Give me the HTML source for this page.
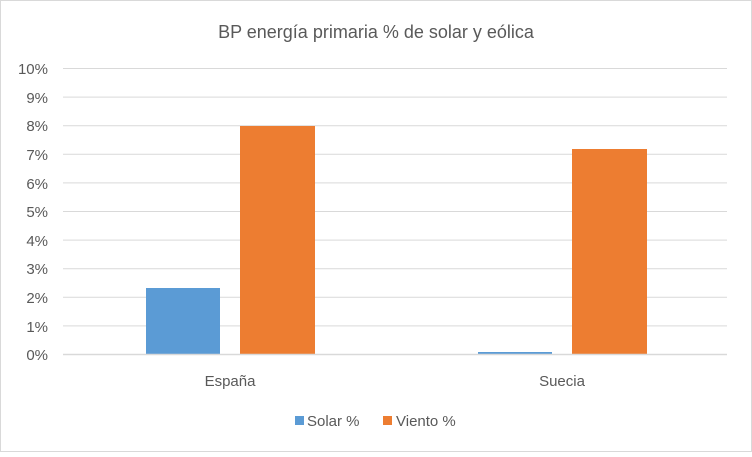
<!DOCTYPE html>
<html><head><style>
body{margin:0;background:#fff;}
</style></head><body>
<svg width="752" height="452" xmlns="http://www.w3.org/2000/svg" font-family="Liberation Sans, sans-serif">
<rect x="0.5" y="0.5" width="751" height="451" fill="#fff" stroke="#d9d9d9"/>
<text x="376" y="38" text-anchor="middle" font-size="18" fill="#595959">BP energía primaria % de solar y eólica</text>
<g stroke="#d9d9d9" stroke-width="1">
<line x1="63" x2="727" y1="68.5" y2="68.5"/>
<line x1="63" x2="727" y1="97.1" y2="97.1"/>
<line x1="63" x2="727" y1="125.7" y2="125.7"/>
<line x1="63" x2="727" y1="154.3" y2="154.3"/>
<line x1="63" x2="727" y1="182.9" y2="182.9"/>
<line x1="63" x2="727" y1="211.5" y2="211.5"/>
<line x1="63" x2="727" y1="240.1" y2="240.1"/>
<line x1="63" x2="727" y1="268.7" y2="268.7"/>
<line x1="63" x2="727" y1="297.3" y2="297.3"/>
<line x1="63" x2="727" y1="325.9" y2="325.9"/>
</g>
<g font-size="15" fill="#595959" text-anchor="end">
<text x="48" y="74">10%</text><text x="48" y="103">9%</text><text x="48" y="131">8%</text>
<text x="48" y="160">7%</text><text x="48" y="189">6%</text><text x="48" y="217">5%</text>
<text x="48" y="246">4%</text><text x="48" y="274">3%</text><text x="48" y="303">2%</text>
<text x="48" y="332">1%</text><text x="48" y="360">0%</text>
</g>
<rect x="146" y="288" width="74" height="66" fill="#5b9bd5"/>
<rect x="240" y="126" width="75" height="228" fill="#ed7d31"/>
<rect x="478" y="352" width="74" height="2" fill="#5b9bd5"/>
<rect x="572" y="149" width="75" height="205" fill="#ed7d31"/>
<line x1="63" x2="727" y1="354.5" y2="354.5" stroke="#d9d9d9" stroke-width="1.5"/>
<g font-size="15" fill="#595959" text-anchor="middle">
<text x="230" y="386">España</text><text x="562" y="386">Suecia</text>
</g>
<rect x="295" y="416" width="9" height="9" fill="#5b9bd5"/>
<text x="307" y="426" font-size="15" fill="#595959">Solar %</text>
<rect x="383" y="416" width="9" height="9" fill="#ed7d31"/>
<text x="396" y="426" font-size="15" fill="#595959">Viento %</text>
</svg>
</body></html>
